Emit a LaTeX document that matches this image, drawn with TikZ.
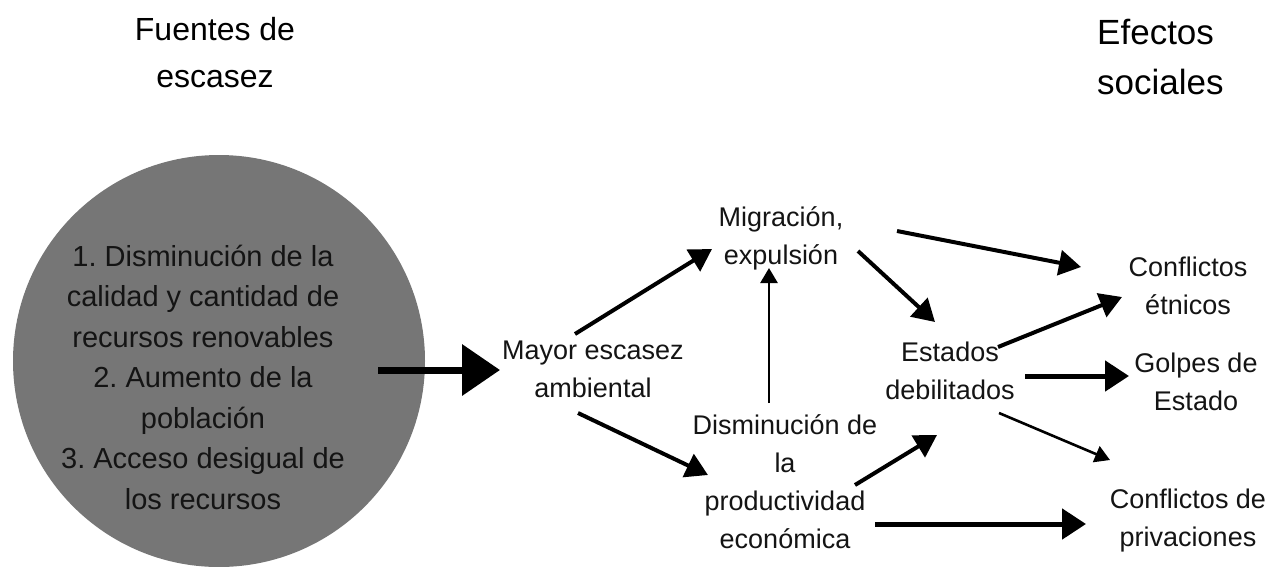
\documentclass[tikz,border=0pt]{standalone}
\usepackage{fontspec}
\setmainfont{Liberation Sans}
\usetikzlibrary{arrows.meta}
\definecolor{circgray}{RGB}{118,118,118}
\definecolor{inktext}{RGB}{20,20,20}
\frenchspacing
\begin{document}
\begin{tikzpicture}[x=1pt,y=-1pt,
  txt/.style={align=center,inner sep=0pt,text=inktext,font=\fontsize{27pt}{38pt}\selectfont},
  circtxt/.style={align=center,inner sep=0pt,text=inktext,font=\fontsize{29pt}{40.5pt}\selectfont},
  arrbig/.style={line width=7pt,-{Triangle[length=38pt,width=50pt]}},
  arrmid/.style={line width=4pt,-{Triangle[length=22pt,width=25pt]}},
  arrwide/.style={line width=5pt,-{Triangle[length=24pt,width=30pt]}},
  arrthin/.style={line width=2.6pt,-{Triangle[length=15pt,width=17pt]}}
]
\useasboundingbox (0,0) rectangle (1271,566);
\fill[white] (0,0) rectangle (1271,566);

% titles
\node[align=center,inner sep=0pt,font=\fontsize{32pt}{47pt}\selectfont] (tleft) at (215,53) {Fuentes de\\escasez};
\node[align=left,inner sep=0pt,anchor=west,font=\fontsize{35pt}{50pt}\selectfont] (tright) at (1097,57) {Efectos\\sociales};

% source circle
\node[circle,fill=circgray,minimum size=412pt,inner sep=0pt] (src) at (219,361) {};
\node[circtxt] (srctext) at (203,377) {1. Disminución de la\\calidad y cantidad de\\recursos renovables\\2. Aumento de la\\población\\3. Acceso desigual de\\los recursos};

% middle nodes
\node[txt] (mayor) at (593,369) {Mayor escasez\\ambiental};
\node[txt] (migr) at (781,238) {Migración,\\expulsión};
\node[txt] (dism) at (785,482) {Disminución de\\la\\productividad\\económica};
\node[txt] (estados) at (950,371) {Estados\\debilitados};
\node[txt] (etnicos) at (1188,286) {Conflictos\\étnicos};
\node[txt] (golpes) at (1196,382) {Golpes de\\Estado};
\node[txt] (priv) at (1188,521) {Conflictos de\\privaciones};

% connector end points
\coordinate (c0s) at (378,370);  \coordinate (c0e) at (500,370);
\coordinate (c1s) at (575,334);  \coordinate (c1e) at (712,249);
\coordinate (c2s) at (578,413);  \coordinate (c2e) at (708,475);
\coordinate (c3s) at (769,403);  \coordinate (c3e) at (769,268);
\coordinate (c4s) at (858,251);  \coordinate (c4e) at (935,322);
\coordinate (c5s) at (897,231);  \coordinate (c5e) at (1081,267);
\coordinate (c6s) at (998,347);  \coordinate (c6e) at (1122,297);
\coordinate (c7s) at (1025,376); \coordinate (c7e) at (1129,376);
\coordinate (c8s) at (999,413);  \coordinate (c8e) at (1110,460);
\coordinate (c9s) at (855,485);  \coordinate (c9e) at (937,435);
\coordinate (c10s) at (875,524); \coordinate (c10e) at (1086,524);

\draw[arrbig] (c0s) -- (c0e);
\draw[arrmid] (c1s) -- (c1e);
\draw[arrmid] (c2s) -- (c2e);
\draw[arrthin] (c3s) -- (c3e);
\draw[arrmid] (c4s) -- (c4e);
\draw[arrmid] (c5s) -- (c5e);
\draw[arrmid] (c6s) -- (c6e);
\draw[arrwide] (c7s) -- (c7e);
\draw[arrthin] (c8s) -- (c8e);
\draw[arrmid] (c9s) -- (c9e);
\draw[arrwide] (c10s) -- (c10e);
\end{tikzpicture}
\end{document}
